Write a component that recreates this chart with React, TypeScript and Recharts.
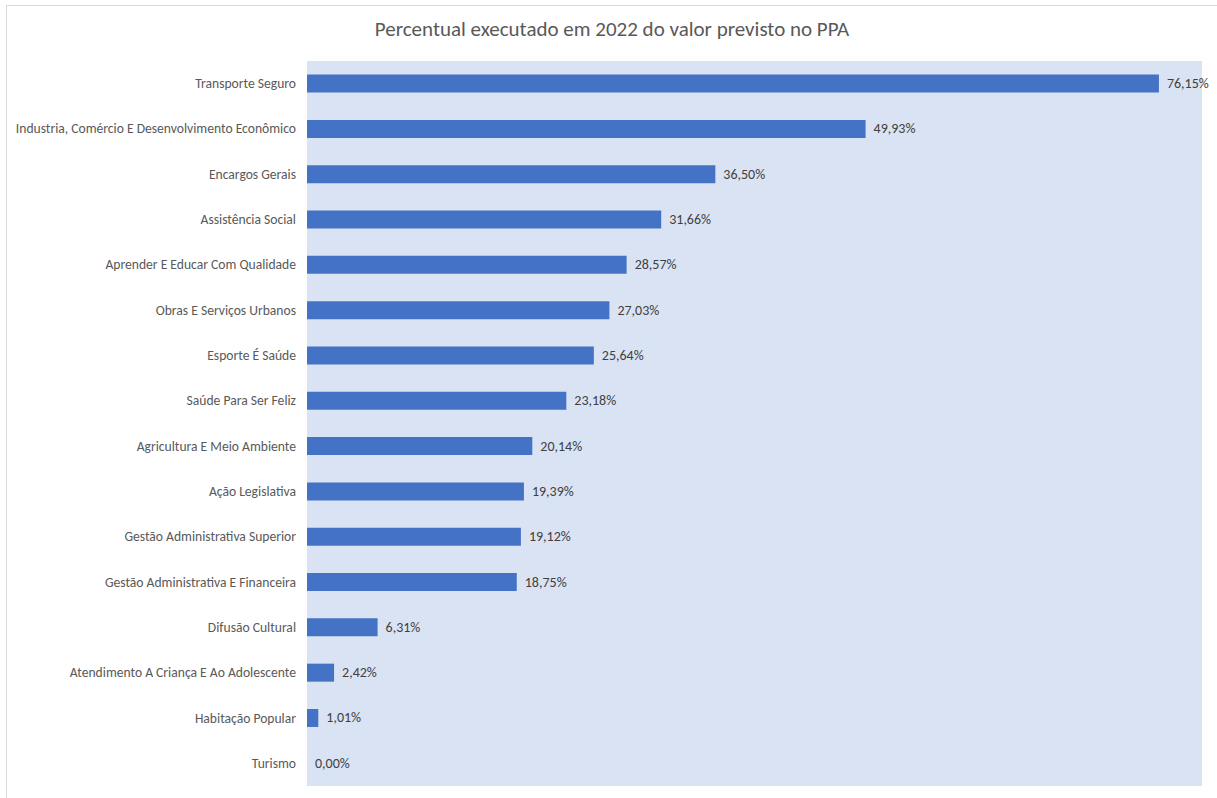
import { BarChart, Bar, XAxis, YAxis, CartesianGrid, LabelList } from 'recharts'

const programas = [
  'Transporte Seguro',
  'Industria, Comércio E Desenvolvimento Econômico',
  'Encargos Gerais',
  'Assistência Social',
  'Aprender E Educar Com Qualidade',
  'Obras E Serviços Urbanos',
  'Esporte É Saúde',
  'Saúde Para Ser Feliz',
  'Agricultura E Meio Ambiente',
  'Ação Legislativa',
  'Gestão Administrativa Superior',
  'Gestão Administrativa E Financeira',
  'Difusão Cultural',
  'Atendimento A Criança E Ao Adolescente',
  'Habitação Popular',
  'Turismo',
]

const percentuais = [
  76.15, 49.93, 36.5, 31.66, 28.57, 27.03, 25.64, 23.18, 20.14, 19.39, 19.12,
  18.75, 6.31, 2.42, 1.01, 0,
]

const titulo = 'Percentual executado em 2022 do valor previsto no PPA'

const dados = programas.map((nome, i) => ({ nome, valor: percentuais[i] }))

const fonte = 'Carlito, Lato, "Open Sans", sans-serif'

const fmt = (v: number) => v.toFixed(2).replace('.', ',') + '%'

// tick simples, sem quebra de linha
const Categoria = (props: any) => {
  const { x, y, payload } = props
  return (
    <text
      x={x}
      y={y}
      dy={4.5}
      textAnchor="end"
      fill="#595959"
      fontSize={13.6}
      fontFamily={fonte}
    >
      {payload.value}
    </text>
  )
}

const Rotulo = (props: any) => {
  const { x, y, width, height, value } = props
  return (
    <text
      x={Number(x) + Number(width || 0) + 8}
      y={Number(y) + Number(height) / 2}
      dy={4.5}
      textAnchor="start"
      fill="#404040"
      fontSize={14}
      fontFamily={fonte}
    >
      {fmt(Number(value))}
    </text>
  )
}

// barra de 0% precisa existir para o rótulo aparecer
const tamanhoMinimo = (v: any) => (Number(v) === 0 ? 0.01 : 0)

export default function App() {
  return (
    <div
      style={{
        position: 'absolute',
        left: 0,
        top: 0,
        width: 1217,
        height: 798,
        background: '#fff',
        fontFamily: fonte,
      }}
    >
      <div
        style={{
          position: 'absolute',
          left: 6,
          top: 5,
          right: 0,
          bottom: 0,
          borderTop: '1px solid #D9D9D9',
          borderLeft: '1px solid #D9D9D9',
        }}
      />
      <div
        style={{
          position: 'absolute',
          top: 16,
          left: 0,
          width: 1224,
          textAlign: 'center',
          fontSize: 21,
          color: '#595959',
        }}
      >
        {titulo}
      </div>
      <div style={{ position: 'absolute', left: 0, top: 0 }}>
        <BarChart
          width={1217}
          height={798}
          data={dados}
          layout="vertical"
          margin={{ top: 61, right: 15, bottom: 12, left: 0 }}
          barCategoryGap="30%"
        >
          <CartesianGrid fill="#DAE3F3" horizontal={false} vertical={false} />
          <XAxis type="number" domain={[0, 80]} hide />
          <YAxis
            type="category"
            dataKey="nome"
            width={307}
            axisLine={false}
            tickLine={false}
            tickMargin={5}
            interval={0}
            tick={<Categoria />}
          />
          <Bar
            dataKey="valor"
            fill="#4472C4"
            minPointSize={tamanhoMinimo as any}
            isAnimationActive={false}
          >
            <LabelList dataKey="valor" content={<Rotulo />} />
          </Bar>
        </BarChart>
      </div>
    </div>
  )
}
